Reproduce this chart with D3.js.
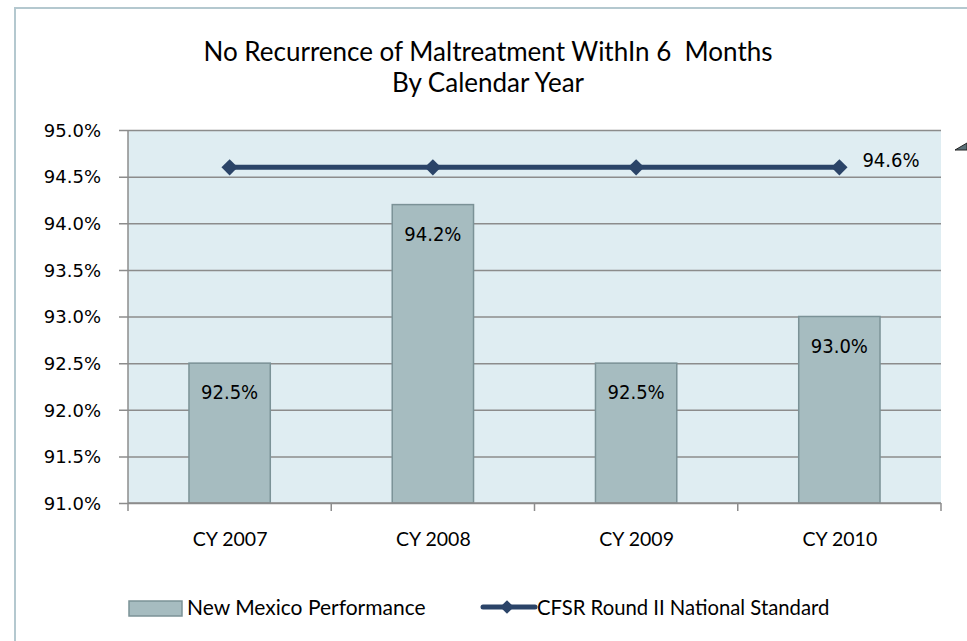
<!DOCTYPE html>
<html>
<head>
<meta charset="utf-8">
<script src="https://cdn.jsdelivr.net/npm/d3@7"></script>
<style>
  body { margin: 0; background: #fff; }
  .title, .legend { font-family: Lato, "Open Sans", sans-serif; fill: #000; }
  .dlab { font-family: "DejaVu Sans Condensed", "DejaVu Sans", sans-serif; fill: #000; }
</style>
</head>
<body>
<svg id="chart" width="967" height="641"></svg>
<script>
var categories = ['CY 2007', 'CY 2008', 'CY 2009', 'CY 2010'],
    performance = [92.5, 94.2, 92.5, 93.0],
    standard = [94.6, 94.6, 94.6, 94.6],
    yTicks = [91.0, 91.5, 92.0, 92.5, 93.0, 93.5, 94.0, 94.5, 95.0],
    titleLines = ['No Recurrence of Maltreatment WithIn 6  Months', 'By Calendar Year'],
    seriesNames = ['New Mexico Performance', 'CFSR Round II National Standard'];

var svg = d3.select('#chart');

var plot = { left: 128, top: 130, right: 941, bottom: 503 };

var x = d3.scaleBand()
    .domain(categories)
    .range([plot.left, plot.right])
    .paddingInner(0.6)
    .paddingOuter(0.3);

var xc = d3.scalePoint()
    .domain(categories)
    .range([plot.left, plot.right])
    .padding(0.5);

var y = d3.scaleLinear()
    .domain([91, 95])
    .range([plot.bottom, plot.top]);

var fmt = function(d) { return d.toFixed(1) + '%'; };

// outer frame
svg.append('path')
    .attr('d', 'M15,641V8H967')
    .attr('fill', 'none')
    .attr('stroke', '#b4c8cf')
    .attr('stroke-width', 2);

// plot background
svg.append('rect')
    .attr('x', plot.left).attr('y', plot.top)
    .attr('width', plot.right - plot.left)
    .attr('height', plot.bottom - plot.top)
    .attr('fill', '#dfedf2');

// title
svg.selectAll('.title')
    .data(titleLines)
  .enter().append('text')
    .attr('class', 'title')
    .attr('x', 488)
    .attr('y', function(d, i) { return 61 + i * 31; })
    .attr('text-anchor', 'middle')
    .style('font-size', '26px')
    .style('white-space', 'pre')
    .text(function(d) { return d; });

// gridlines + y axis
var yAxis = d3.axisLeft(y)
    .tickValues(yTicks)
    .tickSize(-(plot.right - plot.left))
    .tickFormat(fmt);

var gy = svg.append('g')
    .attr('transform', 'translate(' + plot.left + ',0)')
    .call(yAxis);
gy.select('.domain').remove();
gy.selectAll('.tick line')
    .attr('x1', -9)
    .attr('stroke', '#8c8c8c')
    .attr('stroke-width', 1.5);
gy.selectAll('.tick text')
    .attr('x', -27)
    .attr('dy', '0.35em')
    .style('font-size', '18px')
    .style('font-family', '"DejaVu Sans", sans-serif')
    .attr('fill', '#000');

// axis lines
svg.append('line')
    .attr('x1', plot.left).attr('x2', plot.left)
    .attr('y1', plot.top).attr('y2', plot.bottom + 8)
    .attr('stroke', '#8c8c8c').attr('stroke-width', 1.5);
svg.append('line')
    .attr('x1', plot.right).attr('x2', plot.right)
    .attr('y1', plot.bottom).attr('y2', plot.bottom + 8)
    .attr('stroke', '#8c8c8c').attr('stroke-width', 1.5);

// bars
svg.selectAll('.bar')
    .data(performance)
  .enter().append('rect')
    .attr('class', 'bar')
    .attr('x', function(d, i) { return x(categories[i]); })
    .attr('y', function(d) { return y(d); })
    .attr('width', x.bandwidth())
    .attr('height', function(d) { return y(91) - y(d); })
    .attr('fill', '#a6bcc0')
    .attr('stroke', '#7b9297')
    .attr('stroke-width', 1.5);

// x axis (category boundaries)
var step = (plot.right - plot.left) / categories.length;
var xAxis = d3.axisBottom(xc).tickSize(0).tickPadding(29);
var gx = svg.append('g')
    .attr('transform', 'translate(0,' + plot.bottom + ')')
    .call(xAxis);
gx.select('.domain')
    .attr('d', 'M' + plot.left + ',0H' + plot.right)
    .attr('stroke', '#8c8c8c').attr('stroke-width', 1.5);
gx.selectAll('.tick text')
    .style('font-size', '19.5px')
    .style('font-family', 'Lato, "Open Sans", sans-serif')
    .attr('fill', '#000');
gx.selectAll('.sep')
    .data(d3.range(1, categories.length))
  .enter().append('line')
    .attr('x1', function(d) { return plot.left + d * step; })
    .attr('x2', function(d) { return plot.left + d * step; })
    .attr('y1', 0).attr('y2', 8)
    .attr('stroke', '#8c8c8c').attr('stroke-width', 1.5);

// bar labels
svg.selectAll('.dlab')
    .data(performance)
  .enter().append('text')
    .attr('class', 'dlab')
    .attr('x', function(d, i) { return xc(categories[i]); })
    .attr('y', function(d) { return y(d) + 36; })
    .attr('text-anchor', 'middle')
    .style('font-size', '20px')
    .text(fmt);

// standard line
var line = d3.line()
    .x(function(d, i) { return xc(categories[i]); })
    .y(function(d) { return y(d); });

svg.append('path')
    .datum(standard)
    .attr('d', line)
    .attr('fill', 'none')
    .attr('stroke', '#2b4468')
    .attr('stroke-width', 5);

svg.selectAll('.marker')
    .data(standard)
  .enter().append('path')
    .attr('class', 'marker')
    .attr('d', d3.symbol().type(d3.symbolDiamond2).size(170))
    .attr('transform', function(d, i) { return 'translate(' + xc(categories[i]) + ',' + y(d) + ')'; })
    .attr('fill', '#2b4468');

svg.append('text')
    .attr('class', 'dlab')
    .attr('x', xc(categories[3]) + 23)
    .attr('y', y(standard[3]))
    .style('font-size', '20px')
    .text(fmt(standard[3]));

// small corner handle
svg.append('path')
    .attr('d', 'M955,150L967,150L967,143Z')
    .attr('fill', '#5b7078')
    .attr('stroke', '#222')
    .attr('stroke-width', 1);

// legend
var lg = svg.append('g');
lg.append('rect')
    .attr('x', 129).attr('y', 601)
    .attr('width', 53).attr('height', 15)
    .attr('fill', '#a6bcc0')
    .attr('stroke', '#7b9297')
    .attr('stroke-width', 1.5);
lg.append('text')
    .attr('class', 'legend')
    .attr('x', 187).attr('y', 615)
    .style('font-size', '21px')
    .text(seriesNames[0]);
lg.append('line')
    .attr('x1', 483).attr('x2', 535)
    .attr('y1', 607).attr('y2', 607)
    .attr('stroke', '#2b4468').attr('stroke-width', 5)
    .attr('stroke-linecap', 'round');
lg.append('path')
    .attr('d', d3.symbol().type(d3.symbolDiamond2).size(120))
    .attr('transform', 'translate(507,607)')
    .attr('fill', '#2b4468');
lg.append('text')
    .attr('class', 'legend')
    .attr('x', 537).attr('y', 615)
    .style('font-size', '20.3px')
    .text(seriesNames[1]);
</script>
</body>
</html>
